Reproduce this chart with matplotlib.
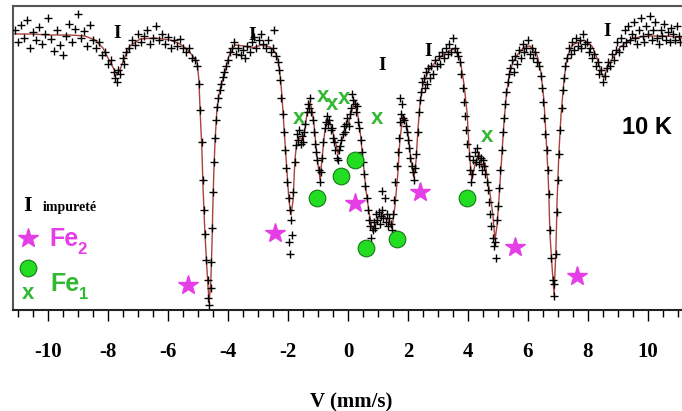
import matplotlib.pyplot as plt
from matplotlib.ticker import MultipleLocator

plt.rcParams['axes.unicode_minus'] = False

# Mossbauer spectrum at 10 K, velocity in mm/s, counts in arbitrary units
vel = [-11.10, -11.00, -10.90, -10.80, -10.70, -10.60, -10.50, -10.40, -10.30, -10.20,
       -10.10, -10.00, -9.90, -9.80, -9.70, -9.60, -9.50, -9.40, -9.30, -9.20,
       -9.10, -9.00, -8.90, -8.80, -8.70, -8.60, -8.50, -8.40, -8.30, -8.20,
       -8.10, -8.00, -7.90, -7.80, -7.75, -7.70, -7.65, -7.60, -7.50, -7.45,
       -7.40, -7.30, -7.20, -7.10, -7.00, -6.90, -6.80, -6.70, -6.60, -6.50,
       -6.40, -6.30, -6.20, -6.10, -6.00, -5.90, -5.80, -5.70, -5.60, -5.50,
       -5.40, -5.30, -5.20, -5.10, -5.03, -4.97, -4.93, -4.88, -4.84, -4.80,
       -4.76, -4.72, -4.68, -4.65, -4.62, -4.58, -4.55, -4.52, -4.49, -4.46,
       -4.43, -4.40, -4.36, -4.32, -4.27, -4.22, -4.17, -4.12, -4.06, -4.00,
       -3.94, -3.88, -3.80, -3.72, -3.65, -3.58, -3.50, -3.43, -3.36, -3.28,
       -3.20, -3.12, -3.05, -2.98, -2.90, -2.82, -2.74, -2.66, -2.58, -2.50,
       -2.45, -2.40, -2.34, -2.30, -2.26, -2.22, -2.18, -2.14, -2.10, -2.06,
       -2.02, -1.98, -1.95, -1.94, -1.92, -1.90, -1.86, -1.82, -1.78, -1.74,
       -1.70, -1.66, -1.62, -1.58, -1.54, -1.50, -1.46, -1.42, -1.38, -1.34,
       -1.30, -1.26, -1.22, -1.18, -1.14, -1.10, -1.06, -1.02, -0.98, -0.94,
       -0.90, -0.86, -0.82, -0.78, -0.74, -0.70, -0.66, -0.62, -0.58, -0.54,
       -0.50, -0.46, -0.42, -0.38, -0.34, -0.30, -0.26, -0.22, -0.18, -0.14,
       -0.10, -0.06, -0.02, 0.02, 0.06, 0.10, 0.14, 0.18, 0.22, 0.26,
       0.30, 0.34, 0.38, 0.42, 0.46, 0.50, 0.54, 0.58, 0.62, 0.66,
       0.70, 0.74, 0.78, 0.82, 0.86, 0.90, 0.94, 0.98, 1.02, 1.06,
       1.10, 1.13, 1.14, 1.18, 1.22, 1.26, 1.30, 1.34, 1.38, 1.42,
       1.46, 1.50, 1.54, 1.58, 1.62, 1.66, 1.70, 1.72, 1.74, 1.78,
       1.80, 1.84, 1.88, 1.92, 1.96, 2.00, 2.04, 2.08, 2.12, 2.16,
       2.20, 2.24, 2.28, 2.32, 2.36, 2.40, 2.44, 2.48, 2.52, 2.56,
       2.60, 2.64, 2.68, 2.72, 2.78, 2.84, 2.90, 2.96, 3.02, 3.08,
       3.14, 3.20, 3.26, 3.32, 3.38, 3.44, 3.50, 3.56, 3.62, 3.68,
       3.74, 3.78, 3.82, 3.86, 3.90, 3.94, 3.98, 4.02, 4.06, 4.10,
       4.14, 4.18, 4.22, 4.26, 4.30, 4.34, 4.38, 4.42, 4.46, 4.50,
       4.54, 4.58, 4.62, 4.66, 4.70, 4.74, 4.78, 4.82, 4.86, 4.90,
       4.93, 4.96, 5.00, 5.04, 5.08, 5.12, 5.16, 5.20, 5.24, 5.28,
       5.32, 5.36, 5.40, 5.46, 5.52, 5.58, 5.64, 5.70, 5.76, 5.82,
       5.88, 5.94, 6.00, 6.06, 6.12, 6.18, 6.24, 6.30, 6.36, 6.42,
       6.46, 6.50, 6.54, 6.58, 6.62, 6.66, 6.70, 6.74, 6.78, 6.82,
       6.86, 6.88, 6.92, 6.96, 7.00, 7.04, 7.08, 7.12, 7.16, 7.20,
       7.25, 7.30, 7.36, 7.42, 7.48, 7.54, 7.60, 7.66, 7.72, 7.78,
       7.84, 7.90, 7.96, 8.02, 8.08, 8.14, 8.20, 8.26, 8.32, 8.38,
       8.44, 8.50, 8.56, 8.62, 8.68, 8.74, 8.80, 8.86, 8.92, 8.98,
       9.04, 9.10, 9.16, 9.22, 9.28, 9.34, 9.40, 9.46, 9.52, 9.58,
       9.64, 9.70, 9.76, 9.82, 9.88, 9.94, 10.00, 10.06, 10.12, 10.18,
       10.24, 10.30, 10.36, 10.42, 10.48, 10.54, 10.60, 10.66, 10.72, 10.78,
       10.84, 10.90, 10.96, 11.02, 11.08]
counts = [280, 268, 285, 272, 290, 262, 278, 270, 283, 266,
          276, 292, 271, 259, 280, 265, 255, 274, 286, 268,
          281, 296, 272, 279, 264, 285, 270, 262, 268, 255,
          258, 246, 250, 238, 232, 228, 240, 236, 252, 246,
          258, 262, 270, 265, 276, 268, 274, 280, 266, 272,
          284, 270, 276, 266, 273, 262, 270, 264, 271, 262,
          258, 262, 252, 250, 244, 226, 200, 168, 130, 100,
          76, 50, 30, 12, 5, 22, 48, 82, 118, 148,
          172, 190, 203, 212, 220, 226, 233, 238, 244, 250,
          258, 262, 268, 256, 262, 255, 260, 252, 264, 258,
          268, 273, 262, 270, 276, 266, 262, 270, 258, 262,
          280, 254, 248, 240, 230, 212, 196, 178, 160, 142,
          128, 112, 68, 100, 56, 90, 75, 118, 148, 165,
          176, 170, 180, 166, 174, 168, 178, 186, 198, 206,
          202, 212, 198, 190, 178, 166, 158, 150, 140, 128,
          138, 152, 168, 182, 188, 194, 186, 190, 180, 182,
          172, 168, 160, 152, 150, 160, 164, 170, 176, 184,
          178, 186, 192, 184, 196, 202, 216, 210, 206, 198,
          204, 188, 182, 170, 158, 148, 136, 124, 112, 100,
          90, 84, 72, 80, 88, 82, 96, 90, 98, 86,
          94, 119, 100, 92, 112, 88, 96, 84, 92, 86,
          80, 96, 110, 128, 144, 158, 172, 212, 188, 196,
          206, 192, 190, 184, 178, 170, 162, 152, 144, 138,
          130, 142, 156, 178, 198, 210, 218, 228, 232, 222,
          238, 226, 242, 232, 244, 236, 250, 244, 254, 246,
          258, 252, 262, 256, 266, 258, 272, 262, 258, 254,
          248, 236, 222, 208, 194, 180, 166, 154, 140, 128,
          136, 150, 158, 148, 162, 154, 146, 152, 140, 150,
          144, 136, 128, 120, 108, 96, 84, 72, 64, 68,
          52, 90, 104, 122, 140, 160, 178, 192, 206, 218,
          228, 236, 242, 250, 238, 254, 246, 260, 252, 266,
          258, 262, 270, 256, 262, 252, 258, 248, 244, 234,
          222, 208, 192, 176, 160, 140, 116, 80, 52, 30,
          14, 26, 56, 98, 130, 156, 180, 202, 220, 232,
          244, 252, 262, 256, 268, 260, 272, 264, 270, 262,
          276, 266, 268, 258, 262, 252, 256, 244, 248, 236,
          240, 228, 234, 242, 248, 244, 256, 250, 260, 268,
          258, 272, 264, 280, 268, 284, 270, 276, 288, 272,
          266, 280, 292, 274, 268, 284, 276, 294, 270, 280,
          288, 272, 266, 280, 274, 286, 270, 278, 268, 282,
          276, 270, 284, 274, 268]

# fitted curve
fit_vel = [-11.17, -10.60, -9.93, -9.27, -8.77, -8.43, -8.17, -7.93, -7.70, -7.60,
           -7.47, -7.27, -6.93, -6.43, -5.93, -5.60, -5.37, -5.20, -5.03, -4.97,
           -4.93, -4.87, -4.83, -4.77, -4.70, -4.63, -4.57, -4.53, -4.50, -4.47,
           -4.43, -4.37, -4.30, -4.20, -4.10, -3.97, -3.77, -3.47, -3.20, -2.87,
           -2.60, -2.43, -2.33, -2.27, -2.20, -2.13, -2.03, -1.97, -1.90, -1.83,
           -1.77, -1.70, -1.60, -1.50, -1.43, -1.37, -1.27, -1.20, -1.13, -1.03,
           -0.93, -0.87, -0.77, -0.67, -0.57, -0.43, -0.33, -0.23, -0.10, 0.03,
           0.13, 0.23, 0.30, 0.40, 0.50, 0.60, 0.70, 0.83, 1.00, 1.17,
           1.33, 1.47, 1.57, 1.67, 1.73, 1.83, 1.93, 2.03, 2.10, 2.20,
           2.27, 2.33, 2.40, 2.50, 2.70, 2.97, 3.23, 3.53, 3.73, 3.87,
           3.97, 4.03, 4.10, 4.13, 4.23, 4.37, 4.47, 4.57, 4.63, 4.73,
           4.83, 4.90, 4.97, 5.03, 5.13, 5.20, 5.27, 5.37, 5.50, 5.67,
           5.87, 6.07, 6.30, 6.43, 6.53, 6.60, 6.67, 6.70, 6.73, 6.80,
           6.87, 6.93, 6.97, 7.03, 7.10, 7.20, 7.30, 7.47, 7.87, 8.13,
           8.30, 8.43, 8.53, 8.67, 8.83, 9.07, 9.50, 10.07, 10.63, 11.13]
fit_counts = [276, 276, 275, 275, 274, 270, 262, 248, 235, 240,
              251, 264, 271, 272, 270, 266, 261, 255, 248, 230,
              200, 160, 121, 77, 40, 7, 30, 70, 110, 140,
              170, 200, 215, 228, 238, 254, 265, 264, 262, 265,
              263, 258, 250, 237, 214, 181, 137, 110, 95, 110,
              150, 170, 172, 170, 182, 196, 208, 200, 185, 152,
              130, 150, 180, 191, 185, 170, 156, 167, 180, 188,
              200, 210, 200, 180, 150, 120, 98, 78, 92, 95,
              90, 82, 105, 140, 170, 195, 190, 170, 150, 132,
              150, 180, 206, 226, 240, 250, 257, 261, 252, 225,
              197, 165, 138, 130, 145, 158, 142, 147, 135, 117,
              95, 70, 85, 110, 155, 188, 212, 235, 248, 256,
              263, 264, 255, 238, 210, 175, 135, 110, 77, 44,
              15, 60, 110, 157, 195, 230, 252, 265, 270, 264,
              252, 238, 232, 245, 252, 263, 272, 274, 274, 272]

# Fe2 sextet lines (stars), Fe1 lines (circles and crosses), impurity lines
fe2_vel = [-5.33, -2.43, 0.23, 2.40, 5.57, 7.63]
fe2_lvl = [25, 77, 107, 118, 63, 34]
fe1_circ_vel = [-1.03, -0.23, 0.23, 0.60, 1.63, 3.97]
fe1_circ_lvl = [112, 134, 150, 62, 71, 112]
fe1_x_vel = [-1.63, -0.83, -0.53, -0.13, 0.97, 4.63]
fe1_x_lvl = [192, 213, 205, 212, 192, 173]
imp_vel = [-7.70, -3.20, 1.13, 2.67, 8.63]
imp_lvl = [277, 275, 245, 258, 279]

magenta = '#e63ee6'
green_fill = '#22dd22'
green_txt = '#33b833'
serif = 'Liberation Serif'
sans = 'Liberation Sans'

fig = plt.figure(figsize=(6.82, 4.11), dpi=100)
ax = fig.add_axes([12.5 / 682, 101 / 411, 677.5 / 682, 304 / 411])

ax.plot(fit_vel, fit_counts, color='#a8433c', lw=1.0, zorder=2)
ax.plot(vel, counts, '+', color='black', ms=6, mew=1.0, zorder=3)

ax.plot(fe2_vel, fe2_lvl, '*', color=magenta, ms=15, mec=magenta, zorder=4)
ax.plot(fe1_circ_vel, fe1_circ_lvl, 'o', color=green_fill, mec='#147a14',
        mew=0.8, ms=12, zorder=4)
for v, c in zip(fe1_x_vel, fe1_x_lvl):
    ax.text(v, c, 'x', color=green_txt, fontsize=16, fontweight='bold',
            family=sans, ha='center', va='center', zorder=4)
for v, c in zip(imp_vel, imp_lvl):
    ax.text(v, c, 'I', color='black', fontsize=14, fontweight='bold',
            family=serif, ha='center', va='center', zorder=4)

# legend block, bottom left
ax.text(-10.67, 99, 'I', fontsize=16, fontweight='bold', family=serif,
        ha='center', va='baseline')
ax.text(-10.17, 99, 'impureté', fontsize=10, fontweight='bold', family=serif,
        ha='left', va='baseline')
ax.plot([-10.67], [72], '*', color=magenta, mec=magenta, ms=15)
ax.text(-9.97, 71, 'Fe', color=magenta, fontsize=18, fontweight='bold',
        family=sans, ha='left', va='center')
ax.text(-9.03, 61, '2', color=magenta, fontsize=12, fontweight='bold',
        family=sans, ha='left', va='center')
ax.plot([-10.67], [42], 'o', color=green_fill, mec='#147a14', mew=0.8, ms=12)
ax.text(-10.67, 17, 'x', color=green_txt, fontsize=16, fontweight='bold',
        family=sans, ha='center', va='center')
ax.text(-9.93, 26, 'Fe', color=green_txt, fontsize=18, fontweight='bold',
        family=sans, ha='left', va='center')
ax.text(-8.96, 16, '1', color=green_txt, fontsize=12, fontweight='bold',
        family=sans, ha='left', va='center')

ax.text(9.13, 182, '10 K', fontsize=17, fontweight='bold', family=sans,
        ha='left', va='center')

ax.set_xlim(-11.183, 11.4)
ax.set_ylim(0, 304)
ax.set_yticks([])
ax.set_xticks(range(-10, 11, 2))
ax.xaxis.set_minor_locator(MultipleLocator(0.5))
ax.tick_params(axis='x', which='major', direction='out', length=8, width=1.0,
               pad=15, labelsize=15)
ax.tick_params(axis='x', which='minor', direction='out', length=5, width=1.0)
for lab in ax.get_xticklabels():
    lab.set_fontfamily(serif)
    lab.set_fontweight('bold')
ax.set_xlabel('V (mm/s)', fontsize=15, fontweight='bold', family=serif,
              labelpad=22)

for s in ax.spines.values():
    s.set_color('#555555')
    s.set_linewidth(1.5)
ax.spines['bottom'].set_color('#222222')

fig.savefig('out.png', dpi=100)
